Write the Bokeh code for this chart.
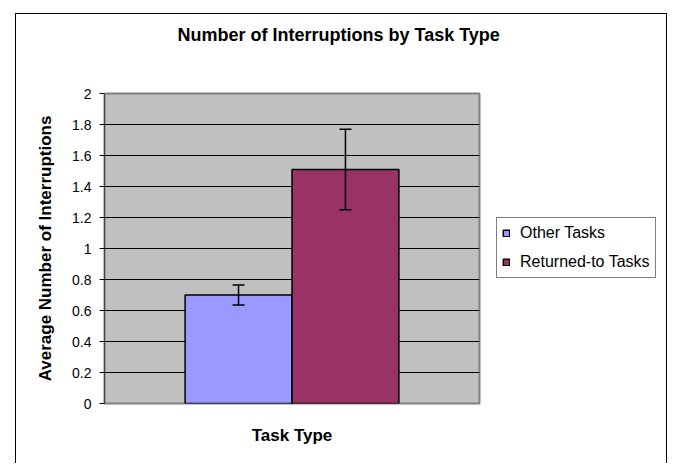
from bokeh.plotting import figure
from bokeh.models import (ColumnDataSource, Range1d, FixedTicker, Whisker, TeeHead,
                          Legend, LegendItem, Title, LinearAxis)
from bokeh.embed import file_html
from bokeh.resources import INLINE

# ---- data ----
categories = ["Other Tasks", "Returned-to Tasks"]
means = [0.70, 1.51]
errors = [0.065, 0.26]
colors = ["#9999FF", "#993366"]
y_ticks = [0, 0.2, 0.4, 0.6, 0.8, 1.0, 1.2, 1.4, 1.6, 1.8, 2.0]
y_tick_labels = ["0", "0.2", "0.4", "0.6", "0.8", "1", "1.2", "1.4", "1.6", "1.8", "2"]
title_text = "Number of Interruptions by Task Type"
x_title = "Task Type"
y_title = "Average Number of Interruptions"

FONT = "Liberation Sans"

x_pos = list(range(len(categories)))
src = ColumnDataSource(dict(
    x=x_pos, cat=categories, mean=means, color=colors,
    upper=[m + e for m, e in zip(means, errors)],
    lower=[m - e for m, e in zip(means, errors)],
))

x_start, x_end = -1.254, 2.254
p = figure(x_range=Range1d(x_start, x_end), y_range=Range1d(0, 2), title=None,
           width=672, height=463, frame_width=375, frame_height=310,
           output_backend="svg", toolbar_location=None, tools="",
           min_border_left=104, min_border_right=193, min_border_top=93, min_border_bottom=60)

# outer chart border (left, top, right edges; bottom edge falls below the page)
p.styles = {
    "background-image": "linear-gradient(#000,#000), linear-gradient(#000,#000), linear-gradient(#000,#000)",
    "background-size": "1px 460px, 652px 1px, 1px 460px",
    "background-position": "15px 13px, 15px 13px, 666px 13px",
    "background-repeat": "no-repeat",
}
p.border_fill_color = None
p.background_fill_color = "#C0C0C0"
p.outline_line_color = "#808080"
p.outline_line_width = 2

# grid
p.xgrid.grid_line_color = None
p.ygrid.grid_line_color = "black"
p.ygrid.grid_line_width = 1
p.ygrid.ticker = FixedTicker(ticks=y_ticks)

# y axis
p.yaxis.ticker = FixedTicker(ticks=y_ticks)
p.yaxis.major_label_overrides = {t: l for t, l in zip(y_ticks, y_tick_labels)}
p.yaxis.minor_tick_line_color = None
p.yaxis.major_tick_out = 5
p.yaxis.major_tick_in = 0
p.yaxis.major_tick_line_color = "black"
p.yaxis.major_label_standoff = 8
p.yaxis.axis_line_color = "#404040"
p.yaxis.major_label_text_font = FONT
p.yaxis.major_label_text_font_size = "14px"
p.yaxis.major_label_text_color = "black"
p.yaxis.axis_label = y_title
p.yaxis.axis_label_text_font = FONT
p.yaxis.axis_label_text_font_size = "17px"
p.yaxis.axis_label_text_font_style = "bold"
p.yaxis.axis_label_text_color = "black"
p.yaxis.axis_label_standoff = 14

# bottom x axis: no ticks or labels, only its title
xb = p.below[0]
xb.ticker = FixedTicker(ticks=[])
xb.minor_tick_line_color = None
xb.major_tick_line_color = None
xb.major_tick_out = 0
xb.major_tick_in = 0
xb.major_label_standoff = 0
xb.axis_line_color = None
xb.axis_label = x_title
xb.axis_label_text_font = FONT
xb.axis_label_text_font_size = "17px"
xb.axis_label_text_font_style = "bold"
xb.axis_label_text_color = "black"
xb.axis_label_standoff = 22

# spacer above the frame: an unlabeled axis whose single white tick reserves room
spacer = LinearAxis(ticker=FixedTicker(ticks=[x_start]), major_tick_out=44, major_tick_in=0,
                    major_label_standoff=0, axis_line_color=None,
                    major_tick_line_color="white", minor_tick_line_color=None,
                    major_label_text_color=None)
p.add_layout(spacer, "above")
title = Title(text=title_text, align="left", offset=73, standoff=10,
              text_font=FONT, text_font_size="18px", text_font_style="bold",
              text_color="black")
p.add_layout(title, "above")

# bars
bars = p.vbar(x="x", top="mean", width=1.0, source=src, fill_color="color",
              line_color="black", line_width=1.5)

# error bars
w = Whisker(base="x", upper="upper", lower="lower", source=src,
            line_color="black", line_width=1.5, level="annotation",
            upper_head=TeeHead(size=12, line_width=1.5, line_color="black"),
            lower_head=TeeHead(size=12, line_width=1.5, line_color="black"))
p.add_layout(w)

items = [LegendItem(label=c, renderers=[bars], index=i) for i, c in enumerate(categories)]
legend = Legend(items=items, location=(17, 125), orientation="vertical",
                glyph_width=8, glyph_height=8, label_height=20, label_standoff=10,
                spacing=9, padding=5, margin=0,
                border_line_color="black", border_line_width=1,
                label_text_font=FONT, label_text_font_size="16px",
                label_text_color="black",
                background_fill_color="white")
p.add_layout(legend, "right")

open("out.html", "w").write(file_html(p, INLINE))
